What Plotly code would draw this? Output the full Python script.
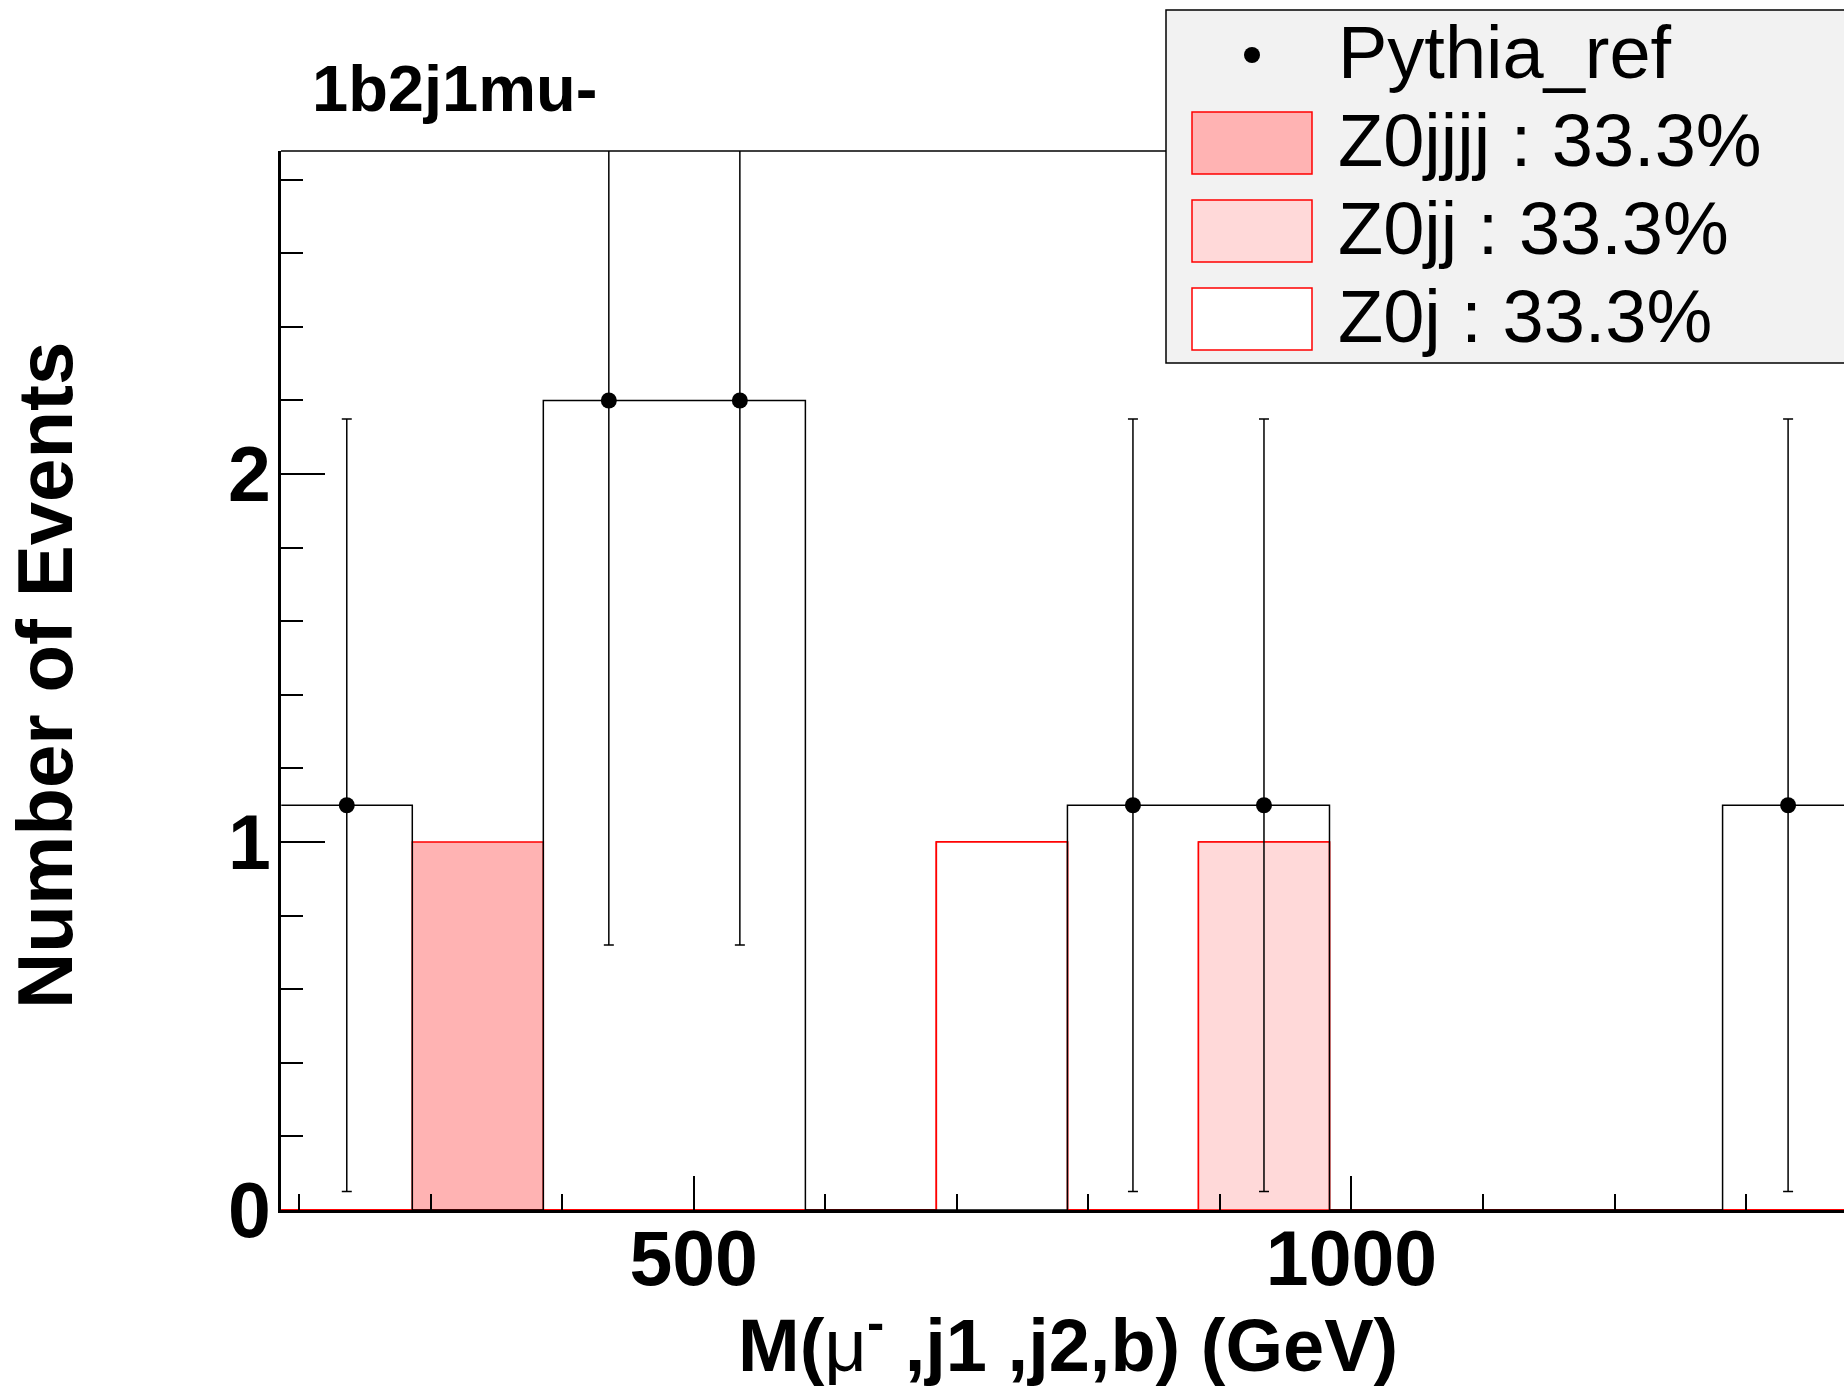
import numpy as np
import plotly.graph_objects as go

# ---------------------------------------------------------------------------
# Data
# ---------------------------------------------------------------------------
BIN_EDGES = [186.5, 286.1, 385.7, 485.3, 584.9, 684.5, 784.1,
             883.7, 983.3, 1082.9, 1182.5, 1282.1, 1381.7]

PYTHIA_REF = [1.1, 0, 2.2, 2.2, 0, 0, 1.1, 1.1, 0, 0, 0, 1.1]
PYTHIA_ERR = [1.05, 0, 1.48, 1.48, 0, 0, 1.05, 1.05, 0, 0, 0, 1.05]

# stack, bottom -> top
Z0J = [0, 0, 0, 0, 0, 1, 0, 0, 0, 0, 0, 0]
Z0JJ = [0, 0, 0, 0, 0, 0, 0, 1, 0, 0, 0, 0]
Z0JJJJ = [0, 1, 0, 0, 0, 0, 0, 0, 0, 0, 0, 0]

STACK = [
    ("Z0j : 33.3%", Z0J, "#ffffff"),
    ("Z0jj : 33.3%", Z0JJ, "#ffd9d9"),
    ("Z0jjjj : 33.3%", Z0JJJJ, "#ffb3b3"),
]

X_RANGE = [186.3, 1374.4]
Y_RANGE = [0, 2.878]

# ---------------------------------------------------------------------------
# Canvas geometry
# ---------------------------------------------------------------------------
W, H = 1844, 1392
ML, MR, MT, MB = 281, 0, 151, 182
FONT = "Liberation Sans, Arial, Helvetica, sans-serif"


def px(x):
    return (x - ML) / (W - ML - MR)


def py(y):
    return (H - MB - y) / (H - MT - MB)


edges = np.array(BIN_EDGES)
centers = (edges[:-1] + edges[1:]) / 2

fig = go.Figure()

# stacked MC: draw cumulative from the top down so lower fills overwrite
cum = np.cumsum([np.array(v, dtype=float) for _, v, _ in STACK], axis=0)
for i in reversed(range(len(STACK))):
    name, _, color = STACK[i]
    yv = list(cum[i]) + [cum[i][-1]]
    fig.add_trace(go.Scatter(
        x=edges, y=yv, mode="lines", line_shape="hv",
        line=dict(color="#ff0000", width=1.5),
        fill="tozeroy", fillcolor=color, name=name, showlegend=False,
    ))

# Pythia reference histogram outline
ref = np.array(PYTHIA_REF, dtype=float)
fig.add_trace(go.Scatter(
    x=edges, y=list(ref) + [ref[-1]], mode="lines", line_shape="hv",
    line=dict(color="black", width=1.5), showlegend=False,
))

# Pythia reference points with errors (empty bins not drawn)
mask = ref > 0
fig.add_trace(go.Scatter(
    x=centers[mask], y=ref[mask], mode="markers",
    marker=dict(color="black", size=16),
    error_y=dict(type="data", array=np.array(PYTHIA_ERR)[mask],
                 color="black", thickness=1.5, width=5),
    name="Pythia_ref", showlegend=False,
))

# ---------------------------------------------------------------------------
# Custom ROOT-style legend
# ---------------------------------------------------------------------------
shapes = [
    # top frame line
    dict(type="line", xref="paper", yref="paper", x0=0, x1=1, y0=1, y1=1,
         line=dict(color="black", width=1.5)),
    # legend box
    dict(type="rect", xref="paper", yref="paper",
         x0=px(1166), x1=px(1900), y0=py(363), y1=py(10),
         fillcolor="#f2f2f2", line=dict(color="black", width=1.5), layer="above"),
    # legend marker
    dict(type="circle", xref="paper", yref="paper",
         x0=px(1244), x1=px(1260), y0=py(63), y1=py(47),
         fillcolor="black", line=dict(color="black", width=0), layer="above"),
]
annotations = []

legend_rows = [("Pythia_ref", None, 77)]
swatch_tops = [112, 200, 288]
for (name, _, color), top in zip(reversed(STACK), swatch_tops):
    shapes.append(dict(type="rect", xref="paper", yref="paper",
                       x0=px(1192), x1=px(1312), y0=py(top + 62), y1=py(top),
                       fillcolor=color, line=dict(color="#ff0000", width=1.5),
                       layer="above"))
    legend_rows.append((name, color, top + 54))

for text, _, base in legend_rows:
    annotations.append(dict(
        text=text, xref="paper", yref="paper", x=px(1336), y=py(base - 25),
        xanchor="left", yanchor="middle", showarrow=False,
        font=dict(family=FONT, size=74, color="black"),
    ))

# title
annotations.append(dict(
    text="1b2j1mu-", xref="paper", yref="paper", x=px(310), y=py(110 - 21),
    xanchor="left", yanchor="middle", showarrow=False,
    font=dict(family=FONT, size=65, color="black", weight="bold"),
))
# x title
annotations.append(dict(
    text='M(<span style="font-weight:normal">μ</span><sup>-</sup> ,j1 ,j2,b) (GeV)',
    xref="paper", yref="paper", x=px(1068), y=py(1340),
    xanchor="center", yanchor="middle", showarrow=False,
    font=dict(family=FONT, size=74, color="black", weight="bold"),
))
# y title
annotations.append(dict(
    text="Number of Events", xref="paper", yref="paper", x=px(45), y=py(676),
    xanchor="center", yanchor="middle", showarrow=False, textangle=-90,
    font=dict(family=FONT, size=78, color="black", weight="bold"),
))

fig.update_layout(
    width=W, height=H,
    margin=dict(l=ML, r=MR, t=MT, b=MB, autoexpand=False),
    paper_bgcolor="white", plot_bgcolor="white",
    showlegend=False,
    shapes=shapes, annotations=annotations,
    xaxis=dict(
        range=X_RANGE, tickvals=[500, 1000], ticks="inside", ticklen=34,
        tickwidth=1.5, tickcolor="black", showgrid=False, zeroline=False,
        showline=True, linecolor="black", linewidth=2.5,
        ticklabelstandoff=-20,
        minor=dict(dtick=100, tick0=0, ticks="inside", ticklen=16,
                   tickwidth=1.5, tickcolor="black", showgrid=False),
        tickfont=dict(family=FONT, size=77, color="black", weight="bold"),
    ),
    yaxis=dict(
        range=Y_RANGE, dtick=1, tick0=0, ticks="inside", ticklen=44,
        tickwidth=1.5, tickcolor="black", showgrid=False, zeroline=False,
        showline=True, linecolor="black", linewidth=2.5,
        ticklabelstandoff=-8,
        minor=dict(dtick=0.2, tick0=0, ticks="inside", ticklen=22,
                   tickwidth=1.5, tickcolor="black", showgrid=False),
        tickfont=dict(family=FONT, size=77, color="black", weight="bold"),
    ),
)

fig.write_html(
    "out.html",
    config={"displayModeBar": False},
    post_script="document.body.style.margin='0';document.body.style.overflow='hidden';",
)
